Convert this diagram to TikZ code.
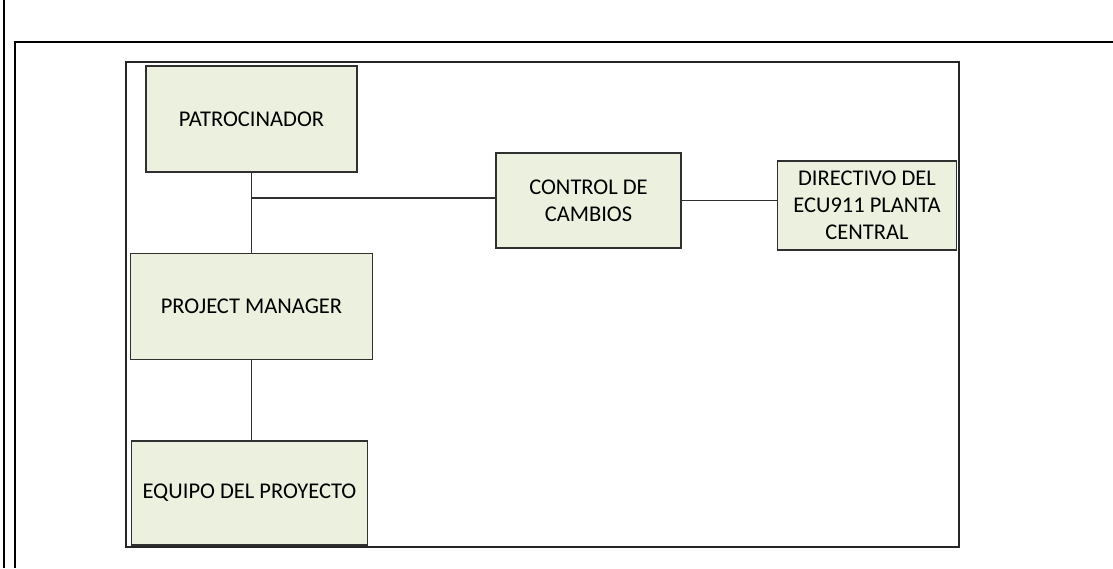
\documentclass[tikz,border=0pt]{standalone}
\usepackage{fontspec}
\setmainfont{Carlito}
\usepackage{tikz}
\usetikzlibrary{positioning}
\definecolor{orgfill}{HTML}{EBF1DE}
\definecolor{orgline}{HTML}{303030}

\begin{document}
\begin{tikzpicture}[x=1pt,y=-1pt,font=\fontsize{22.5}{27}\selectfont,node distance=80pt,
  orgbox/.style={draw=orgline,line width=1.5pt,fill=orgfill,align=center,inner sep=0pt,minimum height=106pt},
  link/.style={draw=orgline,line width=1.5pt}]
\useasboundingbox (0,0) rectangle (1113,568);
% page frame
\draw[line width=2.6pt] (4,0) -- (4,568);
\draw[line width=2.6pt] (1113,42) -- (15,42) -- (15,568);
\draw[line width=2pt,black!85] (126,62) rectangle (959,547);
% chart
\node[orgbox,minimum width=211pt] (pat) at (251.5,119) {PATROCINADOR};
\node[orgbox,minimum width=242pt,below=of pat] (pm) {PROJECT MANAGER};
\node[orgbox,minimum width=236pt,minimum height=104pt,below=of pm,xshift=-2pt] (team) {EQUIPO DEL PROYECTO};
\node[orgbox,minimum width=185pt,minimum height=95pt] (ctrl) at (588.5,200.5) {CONTROL DE\\CAMBIOS};
\node[orgbox,minimum width=179pt,minimum height=89pt,right=95pt of ctrl,yshift=-5pt] (dir) {DIRECTIVO DEL\\ECU911 PLANTA\\CENTRAL};
\coordinate (join) at (pat.south |- 0,198);
\draw[link] (pat.south) -- (pm.north);
\draw[link] (join) -- (join -| ctrl.west);
\draw[link] (pm.south) -- (pm.south |- team.north);
\draw[link] (ctrl.east) -- (ctrl.east -| dir.west);
\end{tikzpicture}
\end{document}
